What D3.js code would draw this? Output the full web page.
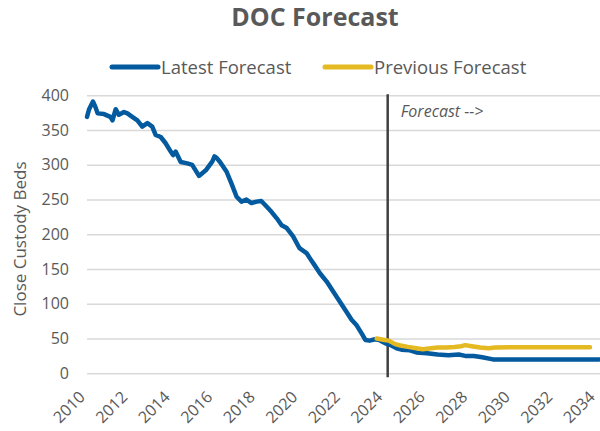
<!DOCTYPE html>
<html>
<head>
<meta charset="utf-8">
<script src="https://cdn.jsdelivr.net/npm/d3@7"></script>
<style>
    body { margin: 0; background: #fff; }
    text { font-family: "Open Sans", sans-serif; }
</style>
</head>
<body>
<div id="chart"></div>
<script>
// 数据（年份为小数）
const latestYears = [2010.0, 2010.1, 2010.28, 2010.4, 2010.5, 2010.8, 2011.1, 2011.2, 2011.35, 2011.5,
    2011.74, 2011.9, 2012.13, 2012.37, 2012.6, 2012.84, 2013.07, 2013.23, 2013.47, 2013.7,
    2013.94, 2014.05, 2014.17, 2014.41, 2014.72, 2014.95, 2015.27, 2015.59, 2015.9, 2016.0,
    2016.1, 2016.26, 2016.57, 2016.8, 2017.04, 2017.27, 2017.5, 2017.74, 2017.98, 2018.2,
    2018.45, 2018.69, 2018.93, 2019.16, 2019.4, 2019.7, 2020.0, 2020.33, 2020.5, 2020.7,
    2020.96, 2021.28, 2021.6, 2021.9, 2022.2, 2022.45, 2022.69, 2022.93, 2023.1, 2023.3,
    2023.55, 2023.75, 2024.04, 2024.26, 2024.57, 2024.8, 2025.2, 2025.5, 2026.0, 2026.5,
    2027.0, 2027.5, 2027.8, 2028.2, 2028.6, 2029.1, 2034.1]
const latestValues = [369, 380, 391, 383, 374, 373, 369, 364, 380, 372,
    376, 374, 369, 364, 355, 360, 355, 343, 340, 331,
    319, 314, 319, 304, 302, 300, 284, 292, 305, 312,
    310, 304, 290, 273, 254, 247, 250, 245, 247, 248,
    240, 232, 223, 213, 209, 197, 180, 173, 165, 156,
    144, 132, 117, 103, 89, 77, 69, 57, 48, 47,
    49, 48, 43, 41, 36, 34, 33, 30, 29, 27,
    26, 27, 25, 25, 23, 20, 20]
const previousYears = [2023.63, 2024.0, 2024.2, 2024.5, 2024.75, 2025.1, 2025.5, 2025.8, 2026.2, 2026.5,
    2026.9, 2027.3, 2027.6, 2027.8, 2028.1, 2028.5, 2028.9, 2029.2, 2030.0, 2033.67]
const previousValues = [50, 48, 47, 42, 40, 38, 36, 34.5, 36, 37,
    37, 38, 39, 40.5, 39, 37, 36, 37, 37.4, 37.4]
const seriesNames = ["Latest Forecast", "Previous Forecast"]
const seriesColors = ["#035a9e", "#e4b922"]
const yTicks = [0, 50, 100, 150, 200, 250, 300, 350, 400]
const xTicks = [2010, 2012, 2014, 2016, 2018, 2020, 2022, 2024, 2026, 2028, 2030, 2032, 2034]
const forecastStart = 2024.15

const width = 600, height = 431
const svg = d3.select("#chart").append("svg")
    .attr("width", width)
    .attr("height", height)

const x = d3.scaleLinear().domain([2010, 2034]).range([87, 597])
const y = d3.scaleLinear().domain([0, 400]).range([373.3, 95.3])

// 标题
svg.append("text")
    .attr("x", 315).attr("y", 26)
    .attr("text-anchor", "middle")
    .attr("font-size", 25).attr("font-weight", "bold")
    .attr("fill", "#595959")
    .text("DOC Forecast")

// 图例
const legendX = [112, 325]
const legend = svg.append("g").selectAll("g")
    .data(seriesNames)
    .enter().append("g")
    .attr("transform", (d, i) => `translate(${legendX[i]},67)`)
legend.append("line")
    .attr("x1", 0).attr("x2", 46)
    .attr("stroke", (d, i) => seriesColors[i])
    .attr("stroke-width", 5)
    .attr("stroke-linecap", "round")
legend.append("text")
    .attr("x", 49).attr("y", 6.5)
    .attr("font-size", 18.5)
    .attr("fill", "#595959")
    .text(d => d)

// 网格线 + Y轴
const yAxis = svg.append("g")
    .attr("transform", "translate(87,0)")
    .call(d3.axisLeft(y).tickValues(yTicks).tickSize(-513).tickPadding(18))
yAxis.select(".domain").remove()
yAxis.selectAll("line").attr("stroke", "#d9d9d9").attr("stroke-width", 1.5)
yAxis.selectAll("text")
    .attr("font-size", 16)
    .attr("fill", "#595959")
    .style("font-family", "'Open Sans', sans-serif")

svg.append("text")
    .attr("transform", "translate(26,239) rotate(-90)")
    .attr("text-anchor", "middle")
    .attr("font-size", 17)
    .attr("fill", "#595959")
    .text("Close Custody Beds")

// X轴标签（旋转 -45°）
svg.append("g").selectAll("text")
    .data(xTicks)
    .enter().append("text")
    .attr("transform", d => `translate(${x(d) - 1},398) rotate(-45)`)
    .attr("text-anchor", "end")
    .attr("font-size", 16)
    .attr("fill", "#595959")
    .text(d => d)

// 预测分界线
svg.append("line")
    .attr("x1", x(forecastStart)).attr("x2", x(forecastStart))
    .attr("y1", y(400) - 1).attr("y2", y(0) + 4)
    .attr("stroke", "#404040")
    .attr("stroke-width", 2.5)
svg.append("text")
    .attr("x", x(forecastStart) + 13).attr("y", 117)
    .attr("font-size", 16)
    .attr("font-style", "italic")
    .attr("fill", "#595959")
    .text("Forecast -->")

// 折线
const line = d3.line()
    .x(d => x(d[0]))
    .y(d => y(d[1]))
const series = [
    d3.zip(latestYears, latestValues),
    d3.zip(previousYears, previousValues)
]
svg.append("g").selectAll("path")
    .data(series)
    .enter().append("path")
    .attr("d", line)
    .attr("fill", "none")
    .attr("stroke", (d, i) => seriesColors[i])
    .attr("stroke-width", 4.5)
    .attr("stroke-linejoin", "round")
    .attr("stroke-linecap", "round")
</script>
</body>
</html>
